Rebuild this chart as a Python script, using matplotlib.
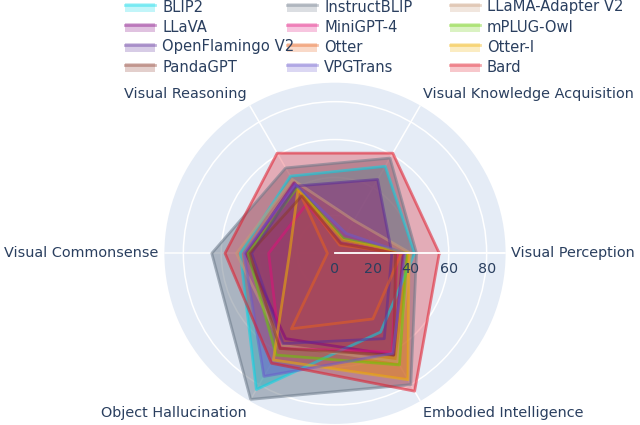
import numpy as np
import matplotlib
matplotlib.use("Agg")
import matplotlib.pyplot as plt
from matplotlib.transforms import offset_copy
from matplotlib.patches import Rectangle
from matplotlib.lines import Line2D

categories = ["Visual Perception", "Visual Knowledge Acquisition", "Visual Reasoning",
              "Visual Commonsense", "Object Hallucination", "Embodied Intelligence"]

models = ["BLIP2", "InstructBLIP", "LLaMA-Adapter V2",
          "LLaVA", "MiniGPT-4", "mPLUG-Owl",
          "OpenFlamingo V2", "Otter", "Otter-I",
          "PandaGPT", "VPGTrans", "Bard"]

# values, order follows categories
blip2 = [42, 53, 47, 50, 83, 48]
instructblip = [43, 58, 52, 65, 89, 80]
llama_adapter = [40, 20, 45, 52, 56, 66]
llava = [36, 8, 43, 47, 52, 62]
minigpt4 = [33, 6, 30, 35, 58, 60]
mplug_owl = [38, 9, 40, 46, 62, 68]
openflamingo = [30, 45, 41, 44, 55, 52]
otter = [35, 5, 38, 4, 46, 40]
otter_i = [39, 8, 39, 24, 65, 77]
pandagpt = [32, 6, 35, 45, 58, 62]
vpgtrans = [37, 12, 42, 48, 75, 61]
bard = [55, 61, 61, 58, 67, 84]

values = [blip2, instructblip, llama_adapter, llava, minigpt4, mplug_owl,
          openflamingo, otter, otter_i, pandagpt, vpgtrans, bard]

colors = ["#00d8e8", "#6a7888", "#c89a78", "#800080", "#e0107a", "#66cc00",
          "#5b2c99", "#e8601c", "#f0b000", "#8b3a2a", "#6a5acd", "#e01828"]

r_ticks = [0, 20, 40, 60, 80]
r_max = 90

bg = "#E5ECF6"
txt = "#2a3f5f"
fill_a = 0.3
line_a = 0.55

fig = plt.figure(figsize=(6.4, 4.25), dpi=100)
W, H = 640, 425
cx, cy, rad = 335, 253.3, 170.6
ax = fig.add_axes([(cx - rad) / W, (H - cy - rad) / H, 2 * rad / W, 2 * rad / H],
                  projection="polar")
ax.set_facecolor(bg)
ax.spines["polar"].set_visible(False)
ax.set_ylim(0, r_max)

theta = np.deg2rad(np.arange(len(categories)) * 60)
ax.set_xticks(theta)
ax.set_xticklabels([])
ax.set_yticks(r_ticks[1:])
ax.set_yticklabels([])
ax.grid(True, color="white", linewidth=1.1)
ax.tick_params(length=0)

# radial axis line
ax.plot([0, 0], [0, r_max], color="white", linewidth=1.3, zorder=5)

# Bard keeps a lighter fill, the others stack darker
th = np.append(theta, theta[0])
for name, vals, c in zip(models, values, colors):
    v = np.append(vals, vals[0])
    a = 0.3 if name == "Bard" else 0.48
    ax.fill(th, v, color=c, alpha=a, linewidth=0, zorder=2)
    ax.plot(th, v, color=c, alpha=line_a, linewidth=2, zorder=3)

# radial tick labels
for r in r_ticks:
    tr = offset_copy(ax.transData, fig=fig, x=0, y=-11, units="points")
    ax.text(0, r, str(r), transform=tr, ha="center", va="center",
            fontsize=10.3, color=txt, zorder=6)

# category labels
aligns = [("left", "center"), ("left", "bottom"), ("right", "bottom"),
          ("right", "center"), ("right", "top"), ("left", "top")]
for t, lab, (ha, va) in zip(theta, categories, aligns):
    dx, dy = 4 * np.cos(t), 4 * np.sin(t)
    tr = offset_copy(ax.transData, fig=fig, x=dx, y=dy, units="points")
    ax.text(t, r_max, lab, transform=tr, ha=ha, va=va, fontsize=10.4,
            color=txt, clip_on=False)

# legend, 3 columns x 4 rows
col_x = [125, 287, 450]
row_y = [7, 27, 47, 67]
for i, (name, c) in enumerate(zip(models, colors)):
    col, row = i % 3, i // 3
    x0, y0 = col_x[col], row_y[row]
    fig.add_artist(Rectangle((x0 / W, (H - y0 - 5) / H), 30 / W, 9 / H,
                             transform=fig.transFigure, facecolor=c,
                             alpha=fill_a * 0.8, edgecolor="none"))
    fig.add_artist(Line2D([x0 / W, (x0 + 30) / W], [(H - y0 + 2) / H] * 2,
                          transform=fig.transFigure, color=c, alpha=line_a * 0.7,
                          linewidth=2))
    fig.text((x0 + 37) / W, (H - y0) / H, name, ha="left", va="center",
             fontsize=10.6, color=txt)

fig.savefig("out.png", dpi=100)
